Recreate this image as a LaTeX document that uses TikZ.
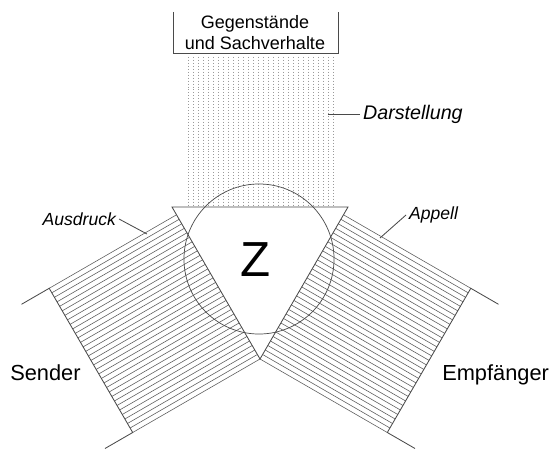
\documentclass[tikz,border=0pt]{standalone}
\usepackage{fontspec}
\setmainfont{Liberation Sans}
\usepackage{tikz}
\usetikzlibrary{calc}
\definecolor{LineGray}{HTML}{4A4A4A}
\definecolor{HatchGray}{HTML}{5E5E5E}
\definecolor{DotGray}{HTML}{9A9A9A}

\tikzset{
  hatchline/.style={HatchGray, line width=0.42pt},
  dotline/.style={DotGray, line width=0.5pt, dash pattern=on 0.6pt off 1.5pt},
  edgeline/.style={LineGray, line width=0.6pt},
  tag/.style={font=\fontsize{12.5}{15}\selectfont\itshape, inner sep=2pt},
  party/.style={font=\fontsize{15.5}{18}\selectfont, inner sep=0pt}
}

\begin{document}
\begin{tikzpicture}[x=0.025cm, y=-0.025cm]
  \useasboundingbox (0,0) rectangle (551,452);

  % Triangle and band corners
  \coordinate (tl) at (172,207);
  \coordinate (tr) at (348,207);
  \coordinate (bt) at (260,359);
  \coordinate (lin) at (176.5,214.8);
  \coordinate (rin) at (343.5,214.8);
  \coordinate (lout1) at (49.2,288.3);
  \coordinate (lout2) at (132.7,432.5);
  \coordinate (rout1) at (470.8,288.3);
  \coordinate (rout2) at (387.3,432.5);

  % Objects box
  \node[align=center, font=\fontsize{12.8}{15}\selectfont] (gegen) at (255,33)
    {Gegenstände\\und Sachverhalte};
  \draw[edgeline] (173,12) -- (173,53) -- (338,53) -- (338,12);

  % Dotted field (Darstellung)
  \foreach \x in {188,193,...,333}
    \draw[dotline] (\x,57) -- (\x,207);

  % Hatched bands
  \foreach \i in {0,...,32}{
    \draw[hatchline] ($(lin)!\i/32!(bt)$) -- ++(-127.3,73.5);
    \draw[hatchline] ($(rin)!\i/32!(bt)$) -- ++(127.3,73.5);
  }

  % Sender and receiver brackets
  \draw[edgeline] ($(lout1)+(-27.7,16)$) -- (lout1) -- (lout2) -- ++(-27.7,16);
  \draw[edgeline] ($(rout1)+(27.7,16)$) -- (rout1) -- (rout2) -- ++(27.7,16);

  % Sign: triangle and circle
  \draw[edgeline, fill=white] (tl) -- (tr) -- (bt) -- cycle;
  \draw[LineGray, line width=0.5pt] (259,259) circle[radius=1.875cm];
  \node[font=\fontsize{35}{40}\selectfont, inner sep=0pt] (zeichen) at (256,260) {Z};

  % Function labels
  \coordinate (darst-end) at (328,114);
  \node[tag, font=\fontsize{14}{16}\selectfont\itshape, anchor=west] (darst) at (360,114) {Darstellung};
  \draw[edgeline] (darst-end) -- (darst.west);

  \coordinate (ausd-end) at (147,234);
  \node[tag, anchor=east] (ausd) at (119,219) {Ausdruck};
  \draw[edgeline] (ausd.east) -- (ausd-end);

  \coordinate (appell-end) at (380,238);
  \node[tag, anchor=west] (appell) at (406,215) {Appell};
  \draw[edgeline] (appell.west) -- (appell-end);

  % Sender / Empfaenger
  \node[party, anchor=base west] (sender) at (10,380) {Sender};
  \node[party, anchor=base west] (empf) at (442,380) {Empfänger};
\end{tikzpicture}
\end{document}
